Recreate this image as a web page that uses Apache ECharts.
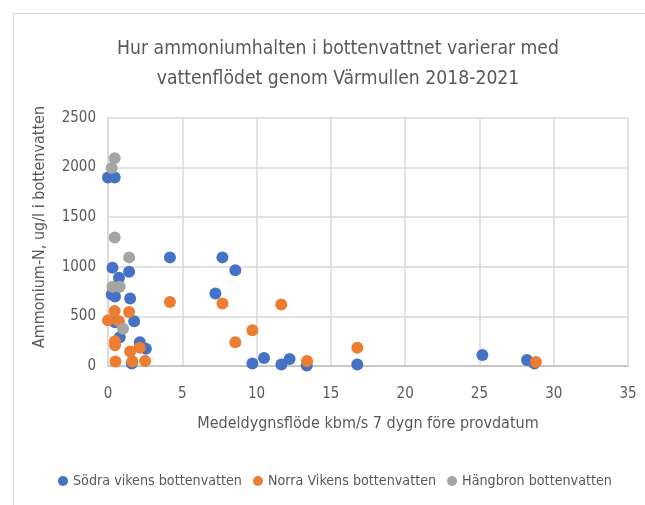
<!DOCTYPE html>
<html lang="sv">
<head>
    <meta charset="UTF-8">
    <title>Ammonium i bottenvattnet</title>
    <style>
        html, body { margin: 0; padding: 0; background: #fff; }
        #frame {
            position: absolute; left: 13px; top: 13px;
            width: 660px; height: 520px;
            border: 1px solid #d9d9d9;
        }
        #main { position: absolute; left: 0; top: 0; width: 645px; height: 505px; }
    </style>
</head>
<body>
<div id="frame"></div>
<div id="main"></div>
<script src="https://cdn.jsdelivr.net/npm/echarts@6/dist/echarts.min.js"></script>
<script>
    // x = flöde (kbm/s), y = ammonium-N (ug/l)
    var sodraX = [0, 0.45, 0.3, 0.74, 1.42, 0.25, 0.47, 1.49, 1.76, 0.47, 0.79, 2.14, 2.55, 1.6,
                  4.17, 7.7, 8.57, 7.23, 9.72, 10.5, 11.67, 12.22, 13.38, 16.78, 25.2, 28.2, 28.7];
    var sodraY = [1900, 1900, 990, 890, 950, 720, 700, 680, 450, 440, 290, 240, 175, 25,
                  1095, 1095, 965, 730, 25, 80, 15, 70, 5, 15, 110, 60, 25];

    var norraX = [0, 0.45, 1.42, 0.74, 4.17, 7.7, 11.66, 0.47, 0.47, 1.49, 2.14, 0.5, 1.64, 2.5,
                  8.57, 9.72, 13.4, 16.78, 28.8];
    var norraY = [460, 555, 545, 450, 645, 630, 620, 250, 210, 145, 185, 45, 45, 50,
                  240, 360, 50, 185, 40];

    var hangX = [0.45, 0.25, 0.45, 1.42, 0.3, 0.79, 1.01];
    var hangY = [2095, 1995, 1295, 1095, 800, 800, 375];

    var xTicks = { min: 0, max: 35, interval: 5 };
    var yTicks = { min: 0, max: 2500, interval: 500 };

    var names = ['Södra vikens bottenvatten', 'Norra Vikens bottenvatten', 'Hängbron bottenvatten'];
    var colors = ['#4472C4', '#ED7D31', '#A5A5A5'];

    function pairs(xs, ys) {
        return xs.map(function (x, i) { return [x, ys[i]]; });
    }

    var font = "'Liberation Sans Narrow', 'DejaVu Sans Condensed', 'Liberation Sans', sans-serif";
    var chart = echarts.init(document.getElementById('main'), null, { renderer: 'canvas' });

    var option = {
        animation: false,
        textStyle: { fontFamily: font, color: '#595959' },
        title: {
            text: 'Hur ammoniumhalten i bottenvattnet varierar med\nvattenflödet genom Värmullen 2018-2021',
            left: 333,
            textAlign: 'center',
            top: 29,
            textStyle: { fontFamily: font, fontSize: 19.2, fontWeight: 'normal', color: '#595959', lineHeight: 30 }
        },
        legend: {
            top: 469,
            left: 53,
            itemWidth: 10,
            itemHeight: 10,
            itemGap: 11,
            icon: 'circle',
            textStyle: { fontFamily: font, fontSize: 14.2, color: '#595959' },
            data: names
        },
        grid: { left: 108, top: 118, right: 17, bottom: 139 },
        xAxis: {
            type: 'value',
            min: xTicks.min, max: xTicks.max, interval: xTicks.interval,
            name: 'Medeldygnsflöde kbm/s 7 dygn före provdatum',
            nameLocation: 'middle',
            nameGap: 50,
            nameTextStyle: { fontFamily: font, fontSize: 16, color: '#595959' },
            axisLine: { show: true, lineStyle: { color: '#bfbfbf', width: 1.5 } },
            axisTick: { show: false },
            axisLabel: { fontFamily: font, fontSize: 15, color: '#595959', margin: 21 },
            splitLine: { show: true, lineStyle: { color: '#d9d9d9', width: 1.5 } }
        },
        yAxis: {
            type: 'value',
            min: yTicks.min, max: yTicks.max, interval: yTicks.interval,
            name: 'Ammonium-N, ug/l i bottenvatten',
            nameLocation: 'middle',
            nameGap: 60,
            nameTextStyle: { fontFamily: font, fontSize: 16, color: '#595959', padding: [0, 0, 0, 30] },
            axisLine: { show: true, lineStyle: { color: '#d9d9d9', width: 1.5 } },
            axisTick: { show: false },
            axisLabel: {
                fontFamily: font, fontSize: 15, color: '#595959', margin: 12,
                formatter: function (v) { return String(v); }
            },
            splitLine: { show: true, lineStyle: { color: '#d9d9d9', width: 1.5 } }
        },
        series: [
            { name: names[0], type: 'scatter', symbolSize: 12, itemStyle: { color: colors[0], opacity: 1 }, data: pairs(sodraX, sodraY) },
            { name: names[1], type: 'scatter', symbolSize: 12, itemStyle: { color: colors[1], opacity: 1 }, data: pairs(norraX, norraY) },
            { name: names[2], type: 'scatter', symbolSize: 12, itemStyle: { color: colors[2], opacity: 1 }, data: pairs(hangX, hangY) }
        ]
    };
    chart.setOption(option);
</script>
</body>
</html>
